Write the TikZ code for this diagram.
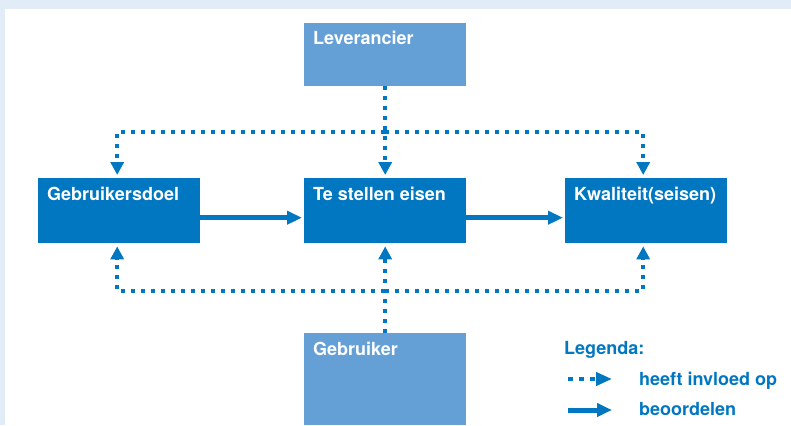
\documentclass[tikz,border=0pt]{standalone}
\usepackage{fontspec}
\setmainfont{TeX Gyre Heros}
\usetikzlibrary{arrows.meta,calc}
\definecolor{dblue}{RGB}{0,119,192}
\definecolor{lblue}{RGB}{100,160,214}
\definecolor{frame}{RGB}{225,236,247}
\tikzset{
  box/.style={rectangle, draw=none, minimum width=162pt, minimum height=65pt, anchor=north west, inner sep=0pt},
  darkbox/.style={box, fill=dblue},
  lightbox/.style={box, fill=lblue},
  boxtext/.style={anchor=base west, text=white, font=\fontsize{18}{21}\selectfont\bfseries, inner sep=0pt},
  legtext/.style={anchor=base west, text=dblue, font=\fontsize{18}{21}\selectfont\bfseries, inner sep=0pt},
  infl/.style={draw=dblue, line width=4pt, dash pattern=on 4pt off 6pt, -{Triangle[length=13pt,width=13pt]}, shorten >=3pt},
  judge/.style={draw=dblue, line width=5pt, -{Triangle[length=15pt,width=13pt]}, shorten >=2pt},
}
\begin{document}
\begin{tikzpicture}[x=1pt,y=-1pt]
\useasboundingbox (0,0) rectangle (791,425);
\fill[frame] (0,0) rectangle (791,425);
\fill[white] (5,9) rectangle (791,425);

\node[lightbox, minimum height=63pt] (lev) at (304,23) {};
\node[darkbox] (gd) at (38,178) {};
\node[darkbox] (tse) at (304,178) {};
\node[darkbox] (kw) at (565,178) {};
\node[lightbox, minimum height=92pt] (gb) at (304,333) {};

\node[boxtext] (tlev) at ($(lev.north west)+(9,22)$) {Leverancier};
\node[boxtext] (tgd) at ($(gd.north west)+(9,22)$) {Gebruikersdoel};
\node[boxtext] (ttse) at ($(tse.north west)+(9,22)$) {Te stellen eisen};
\node[boxtext] (tkw) at ($(kw.north west)+(9,22)$) {Kwaliteit(seisen)};
\node[boxtext] (tgb) at ($(gb.north west)+(9,22)$) {Gebruiker};

% influence connectors
\coordinate (tbus) at (lev.south |- 0,132);
\coordinate (bbus) at (gb.north |- 0,291);
\draw[infl] (lev.south) -- (tse.north);
\draw[infl] (tbus) -| ($(gd.north)+(-2,0)$);
\draw[infl] (tbus) -| ($(kw.north)+(-3,0)$);
\draw[infl] (gb.north) -- (tse.south);
\draw[infl] (bbus) -| ($(gd.south)+(-2,0)$);
\draw[infl] (bbus) -| ($(kw.south)+(-3,0)$);

% judge connectors
\draw[judge] ($(gd.east)+(0,7)$) -- ($(tse.west)+(0,7)$);
\draw[judge] ($(tse.east)+(0,7)$) -- ($(kw.west)+(0,7)$);

% legend
\node[legtext] (leg) at (564,354) {Legenda:};
\coordinate (l1a) at (568,379);
\coordinate (l1b) at (612,379);
\coordinate (l2a) at (568,410);
\coordinate (l2b) at (612,410);
\draw[infl, dash pattern=on 5pt off 6pt, -{Triangle[length=16pt,width=13pt]}, shorten >=0pt] (l1a) -- (l1b);
\draw[judge, shorten >=0pt] (l2a) -- (l2b);
\node[legtext] (lt1) at (639,385) {heeft invloed op};
\node[legtext] (lt2) at (639,415) {beoordelen};
\end{tikzpicture}
\end{document}
